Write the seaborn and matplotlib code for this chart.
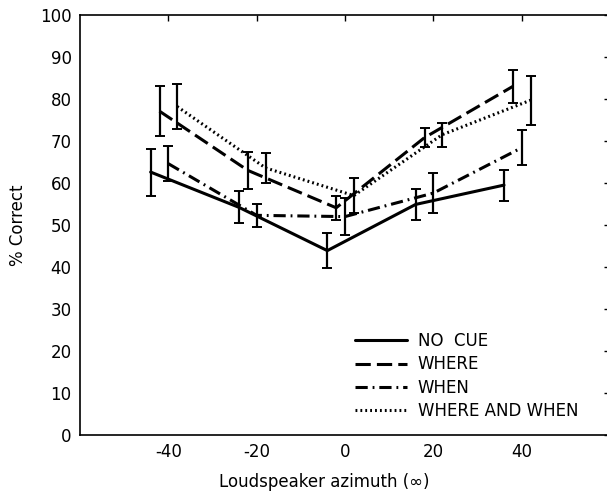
import matplotlib
matplotlib.use('Agg')
import matplotlib.pyplot as plt
import pandas as pd
import seaborn as sns
import numpy as np

# condition labels and horizontal offsets around each loudspeaker azimuth
conditions = ['NO  CUE', 'WHERE', 'WHEN', 'WHERE AND WHEN']
offsets = [-4, -2, 0, 2]
azimuths = [-40, -20, 0, 20, 40]

no_cue = [62.6, 54.2, 43.9, 54.9, 59.5]
no_cue_err = [5.6, 3.8, 4.1, 3.7, 3.7]
where = [77.1, 63.0, 54.1, 70.8, 83.0]
where_err = [5.9, 4.4, 2.9, 2.2, 4.0]
when = [64.6, 52.3, 52.0, 57.6, 68.4]
when_err = [4.2, 2.7, 4.5, 4.7, 4.2]
where_when = [78.2, 63.6, 57.0, 71.5, 79.7]
where_when_err = [5.3, 3.5, 4.2, 2.9, 5.8]

values = [no_cue, where, when, where_when]
errors = [no_cue_err, where_err, when_err, where_when_err]

rows = []
for cond, off, vals, errs in zip(conditions, offsets, values, errors):
    for az, v, e in zip(azimuths, vals, errs):
        rows.append({'cond': cond, 'x': az + off, 'y': v, 'err': e})
df = pd.DataFrame(rows)

sns.set_style('white')
plt.rcParams['font.family'] = ['DejaVu Sans']
plt.rcParams['axes.unicode_minus'] = False
plt.rcParams['text.color'] = 'k'
plt.rcParams['axes.labelcolor'] = 'k'

fig = plt.figure(figsize=(6.07, 4.94), dpi=100)
ax = fig.add_axes([80 / 607, 59 / 494, 530 / 607, 420 / 494])

dash_map = {
    'NO  CUE': '',
    'WHERE': (5, 2),
    'WHEN': (4, 1.6, 0.6, 1.6),
    'WHERE AND WHEN': (0.6, 1.0),
}

sns.lineplot(data=df, x='x', y='y', hue='cond', style='cond',
             palette=['k'] * 4, dashes=dash_map, linewidth=2.2,
             legend=False, ax=ax)

for cond in conditions:
    sub = df[df['cond'] == cond]
    ax.errorbar(sub['x'], sub['y'], yerr=sub['err'], fmt='none',
                ecolor='k', elinewidth=1.6, capsize=3.5, capthick=1.4)

ax.set_xlim(-60, 60)
ax.set_ylim(0, 100)
ax.set_xticks([-40, -20, 0, 20, 40])
ax.set_yticks(range(0, 101, 10))
ax.tick_params(direction='in', length=4, width=1, top=True, right=True,
               labelsize=12, colors='k', pad=6)
for s in ax.spines.values():
    s.set_color('k')
    s.set_linewidth(1.2)

ax.set_xlabel('Loudspeaker azimuth (\u221e)', fontsize=12)
ax.set_ylabel('% Correct', fontsize=12)
ax.xaxis.set_label_coords(0.46, -0.09)
ax.yaxis.set_label_coords(-0.10, 0.5)

handles = ax.get_lines()[:4]
leg = ax.legend(handles, conditions, loc='upper left',
                bbox_to_anchor=((355 - 80) / 530, 0.245),
                frameon=False, fontsize=12, handlelength=3.1,
                handletextpad=0.65, labelspacing=0.32, borderpad=0,
                borderaxespad=0)

plt.savefig('out.png', dpi=100)
